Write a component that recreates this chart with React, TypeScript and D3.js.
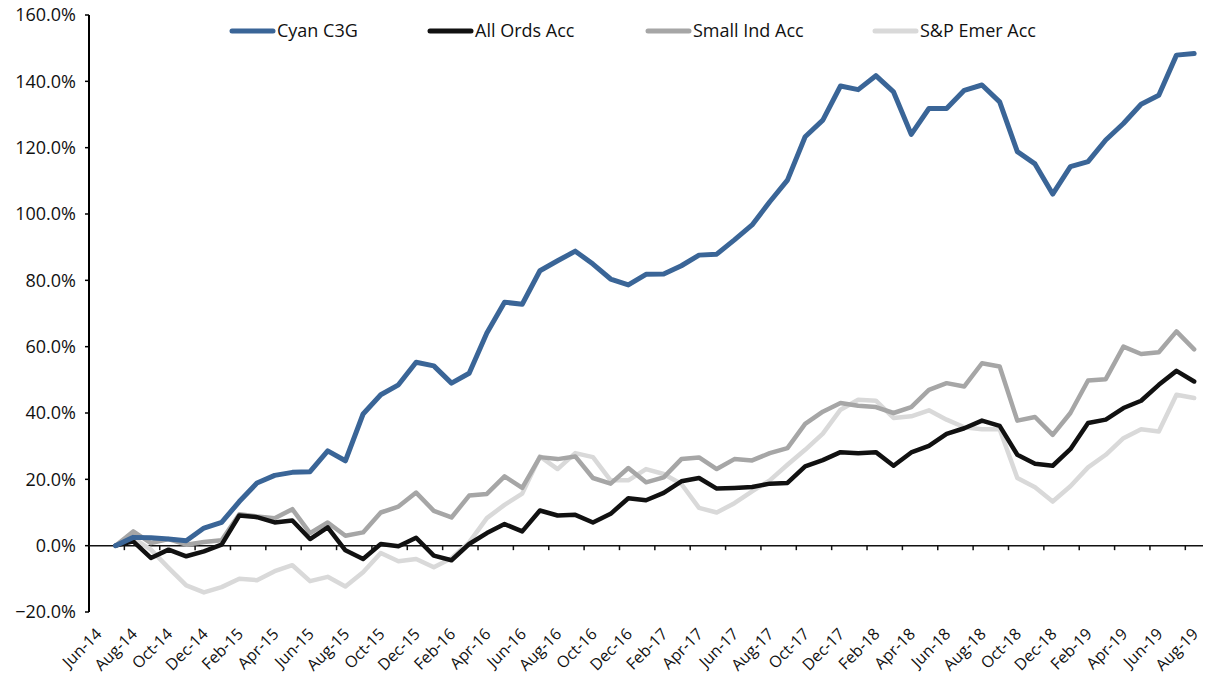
import { scaleBand, scaleLinear, line, timeMonths, timeFormat, format } from 'd3';

const months = timeMonths(new Date(2014, 5, 1), new Date(2019, 8, 1)).map(timeFormat('%b-%y'));
// values start one month after the first category (Jul-14 .. Aug-19)
const valueMonths = months.slice(1);

const cyanC3G = [
  0, 2.5, 2.4, 2.0, 1.5, 5.3, 7.0, 13.3, 18.9, 21.2, 22.1, 22.3, 28.6, 25.6, 39.7, 45.5, 48.5, 55.3, 54.2, 49.0,
  52.0, 64.1, 73.4, 72.8, 82.9, 85.9, 88.8, 84.9, 80.4, 78.6, 81.8, 81.9, 84.4, 87.6, 87.9, 92.2, 96.7, 103.7, 110.2, 123.3,
  128.3, 138.6, 137.5, 141.7, 136.8, 124.0, 131.8, 131.8, 137.3, 138.9, 133.8, 118.8, 115.1, 106.0, 114.3, 115.8, 122.3, 127.3, 133.1, 135.8,
  147.9, 148.4,
];
const allOrdsAcc = [
  0, 1.3, -3.7, -1.2, -3.2, -1.7, 0.3, 9.1, 8.6, 7.0, 7.6, 2.0, 5.5, -1.4, -4.0, 0.5, -0.2, 2.4, -3.0, -4.4,
  0.5, 3.8, 6.5, 4.3, 10.6, 9.1, 9.3, 7.0, 9.6, 14.3, 13.7, 15.9, 19.4, 20.4, 17.2, 17.4, 17.7, 18.7, 18.9, 23.9,
  25.8, 28.2, 27.9, 28.2, 24.1, 28.1, 30.1, 33.7, 35.4, 37.7, 36.1, 27.4, 24.7, 24.1, 29.1, 37.0, 38.0, 41.5, 43.7, 48.5,
  52.7, 49.5,
];
const smallIndAcc = [
  0, 4.3, 0.8, 2.0, 0.3, 1.1, 1.6, 9.5, 8.8, 8.3, 11.0, 3.8, 7.0, 3.0, 4.0, 10.0, 11.8, 16.0, 10.5, 8.5,
  15.1, 15.6, 20.9, 17.4, 26.7, 26.1, 26.9, 20.4, 18.7, 23.4, 19.1, 20.6, 26.1, 26.6, 23.1, 26.1, 25.7, 27.9, 29.4, 36.7,
  40.4, 43.0, 42.2, 41.8, 40.0, 41.8, 47.0, 49.0, 48.0, 55.0, 54.0, 37.7, 38.8, 33.4, 40.0, 49.8, 50.2, 60.0, 57.8, 58.3,
  64.6, 59.2,
];
const spEmerAcc = [
  0, 2.3, -1.2, -6.7, -12.0, -14.1, -12.5, -10.0, -10.4, -7.7, -5.9, -10.7, -9.4, -12.3, -8.0, -2.2, -4.7, -4.0, -6.5, -3.8,
  1.0, 8.3, 12.3, 15.7, 26.9, 23.1, 27.9, 26.7, 19.7, 19.7, 23.1, 21.6, 18.6, 11.4, 10.0, 12.8, 16.4, 19.7, 24.4, 28.9,
  33.8, 41.0, 44.0, 43.7, 38.5, 39.0, 40.8, 38.0, 35.7, 35.1, 35.1, 20.4, 17.6, 13.3, 17.9, 23.6, 27.4, 32.4, 35.1, 34.4,
  45.5, 44.5,
];

const yTicks = [-20, 0, 20, 40, 60, 80, 100, 120, 140, 160];

const seriesNames = ['Cyan C3G', 'All Ords Acc', 'Small Ind Acc', 'S&P Emer Acc'];
const seriesValues = [cyanC3G, allOrdsAcc, smallIndAcc, spEmerAcc];
const seriesColors = ['#3a6597', '#111111', '#a6a6a6', '#d9d9d9'];
// drawing order: light lines underneath, blue on top
const drawOrder = [3, 2, 1, 0];
const legendX = [230, 428, 646, 873];

const W = 1216;
const H = 693;
const FONT = '"Open Sans", "DejaVu Sans", sans-serif';

export default function App() {
  const x = scaleBand<string>().domain(months).range([89, 1203]).padding(0);
  const y = scaleLinear().domain([-20, 160]).range([612, 15]);
  const cx = (m: string) => (x(m) ?? 0) + x.bandwidth() / 2;
  const pct = format('.1f');

  const path = line<number>()
    .x((_, i) => cx(valueMonths[i]))
    .y((d) => y(d));

  const tickMonths = months.filter((_, i) => i % 2 === 0 && i > 0);

  return (
    <svg width={W} height={H} style={{ position: 'absolute', left: 0, top: 0, display: 'block', background: '#fff' }} fontFamily={FONT}>
      {/* legend */}
      {seriesNames.map((name, i) => (
        <g key={name} transform={`translate(${legendX[i]}, 31)`}>
          <line x1={2} x2={43} y1={0} y2={0} stroke={seriesColors[i]} strokeWidth={5} strokeLinecap="round" />
          <text x={47} y={0} dy="0.35em" fontSize={18} fill="#111">
            {name}
          </text>
        </g>
      ))}

      {/* y axis */}
      <line x1={89} x2={89} y1={y(160)} y2={y(-20)} stroke="#000" strokeWidth={2} />
      {yTicks.map((t) => (
        <g key={t}>
          <line x1={85} x2={89} y1={y(t)} y2={y(t)} stroke="#000" strokeWidth={1.5} />
          <text x={76} y={y(t)} dy="0.35em" textAnchor="end" fontSize={18} fill="#111">
            {pct(t)}%
          </text>
        </g>
      ))}

      {/* x axis at zero */}
      <line x1={89} x2={1203} y1={y(0)} y2={y(0)} stroke="#111" strokeWidth={1.5} />
      {tickMonths.map((m) => (
        <line key={m} x1={x(m) ?? 0} x2={x(m) ?? 0} y1={y(0)} y2={y(0) + 4.5} stroke="#111" strokeWidth={1.5} />
      ))}
      {months
        .filter((_, i) => i % 2 === 0)
        .map((m) => (
          <text
            key={m}
            transform={`translate(${cx(m) + 1}, 631) rotate(-45)`}
            textAnchor="end"
            dy="0.35em"
            fontSize={16}
            fill="#111"
          >
            {m}
          </text>
        ))}

      {/* series */}
      {drawOrder.map((s) => (
        <path
          key={seriesNames[s]}
          d={path(seriesValues[s]) ?? ''}
          fill="none"
          stroke={seriesColors[s]}
          strokeWidth={s === 0 ? 5 : 4.5}
          strokeLinejoin="round"
          strokeLinecap="round"
        />
      ))}
    </svg>
  );
}
